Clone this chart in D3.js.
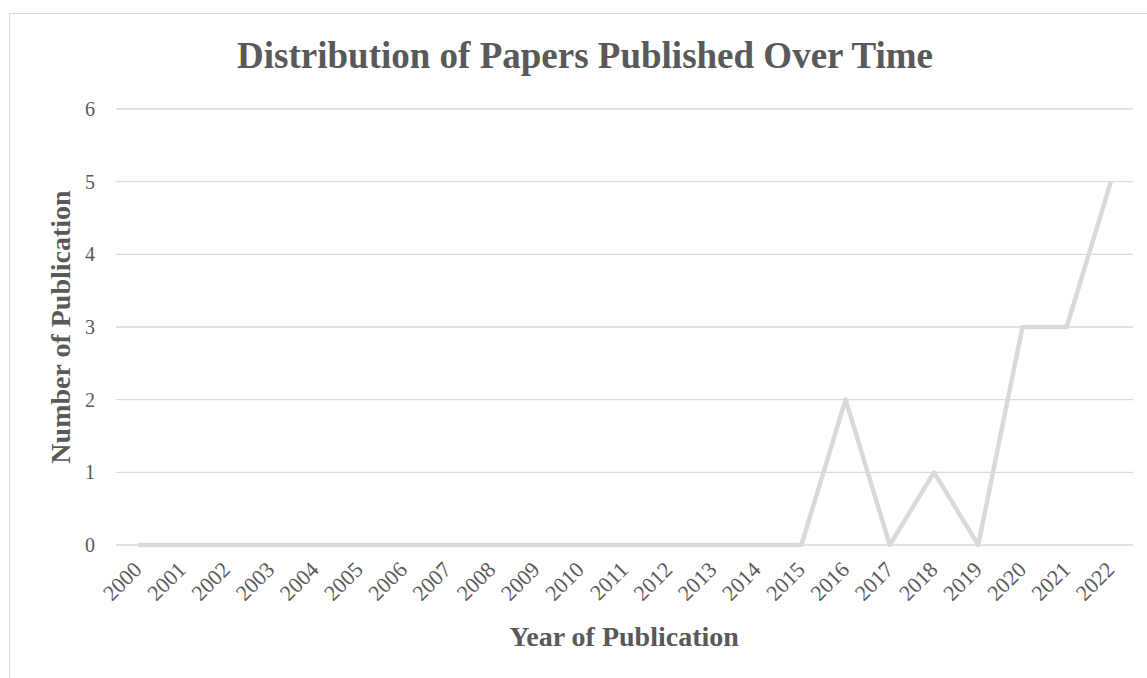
<!DOCTYPE html>
<html>
<head>
<meta charset="utf-8">
<script src="https://cdn.jsdelivr.net/npm/d3@7/dist/d3.min.js"></script>
<style>
  html, body { margin: 0; padding: 0; background: #fff; }
  svg { display: block; }
  text { font-family: "Liberation Serif", "Times New Roman", serif; fill: #595959; }
</style>
</head>
<body>
<svg id="chart" width="1147" height="678"></svg>
<script>
const years = ["2000","2001","2002","2003","2004","2005","2006","2007","2008","2009","2010","2011","2012","2013","2014","2015","2016","2017","2018","2019","2020","2021","2022"];
const papers = [0,0,0,0,0,0,0,0,0,0,0,0,0,0,0,0,2,0,1,0,3,3,5];
const yTicks = [0,1,2,3,4,5,6];
const titleText = "Distribution of Papers Published Over Time";
const xTitle = "Year of Publication";
const yTitle = "Number of Publication";

const W = 1147, H = 678;
const margin = {left: 116, right: 14, top: 109, bottom: 133};
const svg = d3.select("#chart");

// outer frame
svg.append("rect")
  .attr("x", 9.5).attr("y", 13.5)
  .attr("width", W + 10).attr("height", H + 10)
  .attr("fill", "none").attr("stroke", "#d9d9d9").attr("stroke-width", 1);

const x = d3.scaleBand().domain(years).range([margin.left, W - margin.right]);
const y = d3.scaleLinear().domain([0, 6]).range([H - margin.bottom, margin.top]);

// gridlines
svg.append("g").selectAll("line").data(yTicks).join("line")
  .attr("x1", margin.left).attr("x2", W - margin.right)
  .attr("y1", d => y(d)).attr("y2", d => y(d))
  .attr("stroke", "#d9d9d9").attr("stroke-width", 1.3);

// y axis labels
const yAxis = d3.axisLeft(y).tickValues(yTicks).tickFormat(d3.format("d")).tickSize(0).tickPadding(21);
const gy = svg.append("g").attr("transform", `translate(${margin.left},0)`).call(yAxis);
gy.select(".domain").remove();
gy.selectAll("text")
  .style("font-family", '"Liberation Serif", serif')
  .style("font-size", "20px").style("fill", "#595959");

// x axis labels
const xAxis = d3.axisBottom(x).tickSize(0).tickPadding(0);
const gx = svg.append("g").attr("transform", `translate(0,${H - margin.bottom})`).call(xAxis);
gx.select(".domain").remove();
gx.selectAll("text")
  .style("font-family", '"Liberation Serif", serif')
  .style("font-size", "22px").style("fill", "#595959")
  .attr("text-anchor", "end")
  .attr("dy", null).attr("y", 0)
  .attr("transform", "translate(5,26) rotate(-45)");

// line
const line = d3.line()
  .x((d, i) => x(years[i]) + x.bandwidth() / 2)
  .y(d => y(d));
svg.append("path").datum(papers)
  .attr("d", line)
  .attr("fill", "none")
  .attr("stroke", "#d9d9d9")
  .attr("stroke-width", 4.5)
  .attr("stroke-linejoin", "round")
  .attr("stroke-linecap", "butt");

// title
svg.append("text")
  .attr("x", 585).attr("y", 68)
  .attr("text-anchor", "middle")
  .style("font-size", "37px").style("font-weight", "bold")
  .text(titleText);

// x title
svg.append("text")
  .attr("x", 624).attr("y", 646)
  .attr("text-anchor", "middle")
  .style("font-size", "28px").style("font-weight", "bold")
  .text(xTitle);

// y title
svg.append("text")
  .attr("transform", `translate(70,${(margin.top + H - margin.bottom) / 2}) rotate(-90)`)
  .attr("text-anchor", "middle")
  .style("font-size", "28px").style("font-weight", "bold")
  .text(yTitle);
</script>
</body>
</html>
